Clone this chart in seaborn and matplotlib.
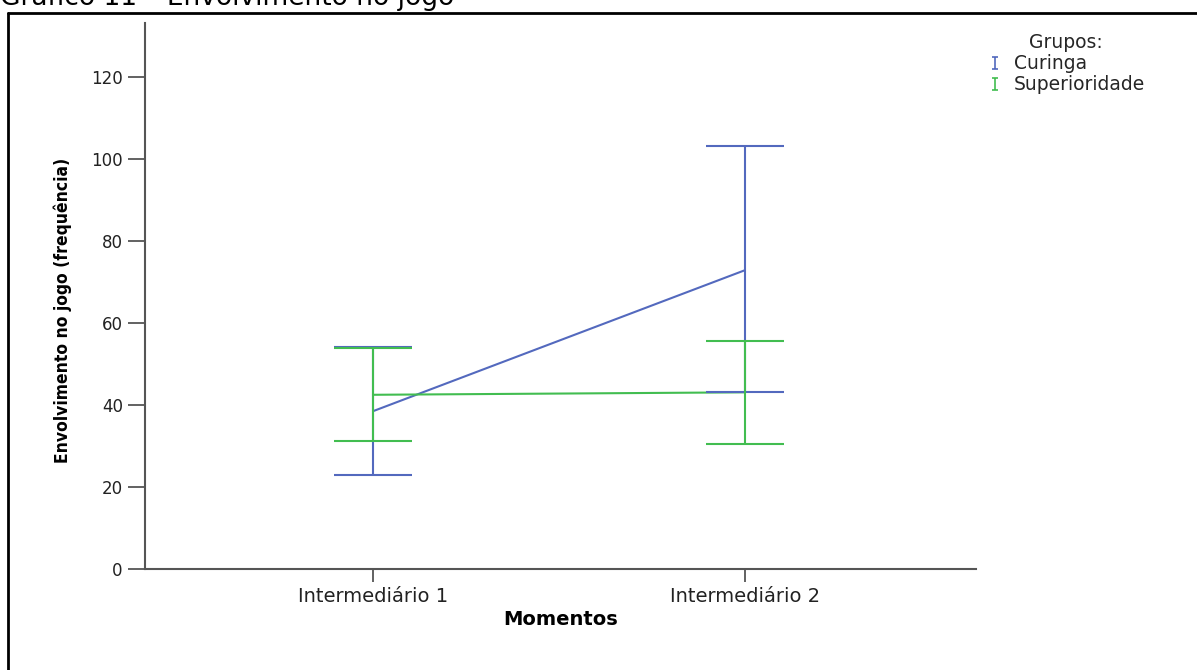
import matplotlib
matplotlib.use("Agg")
import matplotlib.pyplot as plt
from matplotlib.lines import Line2D
from matplotlib.path import Path
import seaborn as sns
import pandas as pd
import numpy as np

# Summary statistics: mean and 95% CI limits per group and moment
momentos = ["Intermediário 1", "Intermediário 2"]
grupos = ["Curinga", "Superioridade"]
curinga_media = [38.5, 72.9]
curinga_inf = [22.9, 43.1]
curinga_sup = [54.1, 103.1]
superioridade_media = [42.5, 43.1]
superioridade_inf = [31.2, 30.5]
superioridade_sup = [53.8, 55.6]
y_ticks = [0, 20, 40, 60, 80, 100, 120]

cores = {"Curinga": "#5369be", "Superioridade": "#42bd50"}

df = pd.DataFrame({
    "Momento": momentos * 2,
    "Grupo": [grupos[0]] * 2 + [grupos[1]] * 2,
    "Media": curinga_media + superioridade_media,
    "Inf": curinga_inf + superioridade_inf,
    "Sup": curinga_sup + superioridade_sup,
})

sns.set_theme(style="white")
plt.rcParams["font.family"] = ["DejaVu Sans"]

fig = plt.figure(figsize=(11.97, 6.70), dpi=100)
ax = fig.add_axes([145 / 1197, 1 - 569 / 670, (976 - 145) / 1197, (569 - 23) / 670])

sns.pointplot(data=df, x="Momento", y="Media", hue="Grupo", hue_order=grupos,
              palette=cores, errorbar=None, markers="", linewidth=1.5,
              dodge=False, ax=ax, legend=False)

# Confidence interval whiskers
for g in grupos:
    sub = df[df["Grupo"] == g]
    pos = np.arange(len(sub))
    ax.errorbar(pos, sub["Media"],
                yerr=[sub["Media"] - sub["Inf"], sub["Sup"] - sub["Media"]],
                fmt="none", ecolor=cores[g], elinewidth=1.5,
                capsize=28, capthick=1.5, zorder=3)

ax.set_xlim(-0.613, 1.621)
ax.set_ylim(0, 133.2)
ax.set_yticks(y_ticks)

for s in ["top", "right"]:
    ax.spines[s].set_visible(False)
for s in ["left", "bottom"]:
    ax.spines[s].set_color("#555555")
    ax.spines[s].set_linewidth(1.5)

ax.tick_params(axis="y", length=12, width=1.3, color="#555555", pad=4,
               labelsize=12, labelcolor="#222222", left=True)
ax.tick_params(axis="x", length=9, width=1.3, color="#555555", pad=4,
               labelsize=14, labelcolor="#222222", bottom=True)

ax.set_ylabel("Envolvimento no jogo (frequência)", fontsize=12.5, fontweight="bold",
              fontstretch="condensed", family=["DejaVu Sans"], color="black")
ax.yaxis.set_label_coords(-0.088, 0.474)
ax.set_xlabel("Momentos", fontsize=14, fontweight="bold", color="black")
ax.xaxis.set_label_coords(0.5, -0.075)

# I-beam legend symbol
ibeam = Path([(-0.5, -1), (0.5, -1), (0, -1), (0, 1), (-0.5, 1), (0.5, 1)],
             [Path.MOVETO, Path.LINETO, Path.MOVETO, Path.LINETO, Path.MOVETO, Path.LINETO])
handles = [Line2D([], [], linestyle="none", marker=ibeam, markersize=9,
                  markeredgewidth=1.2, markeredgecolor=cores[g], markerfacecolor="none")
           for g in grupos]
leg = fig.legend(handles, grupos, title="Grupos:", loc="upper left",
                 bbox_to_anchor=(980 / 1197, 1 - 26 / 670), frameon=False,
                 fontsize=13.5, title_fontsize=13.5, handlelength=0.8,
                 handletextpad=0.6, labelspacing=0.1, borderaxespad=0)

# Page frame and caption
fig.add_artist(Line2D([8 / 1197, 8 / 1197], [-0.1, 1 - 13 / 670], color="black", lw=2))
fig.add_artist(Line2D([8 / 1197, 1.1], [1 - 13 / 670, 1 - 13 / 670], color="black", lw=2))
fig.text(0.0, 1 - 5 / 670, "Gráfico 11 – Envolvimento no jogo", fontsize=19,
         va="baseline", ha="left", color="black")

fig.savefig("out.png", dpi=100)
